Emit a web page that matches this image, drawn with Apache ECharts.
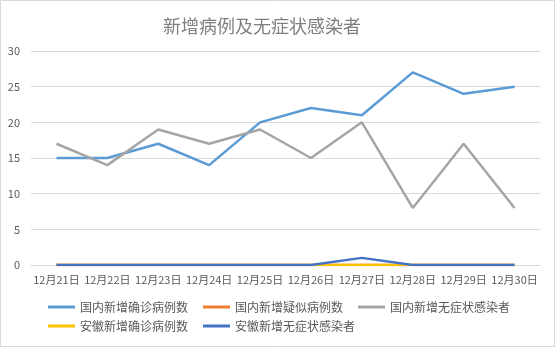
<!DOCTYPE html>
<html><head><meta charset="utf-8">
<script src="https://cdn.jsdelivr.net/npm/echarts@6/dist/echarts.min.js"></script>
<style>html,body{margin:0;padding:0;background:#fff}#c{width:555px;height:347px}</style>
</head><body><div id="c"></div>
<script>
const titleText = '新增病例及无症状感染者';
const categories = ['12月21日','12月22日','12月23日','12月24日','12月25日','12月26日','12月27日','12月28日','12月29日','12月30日'];
const seriesNames = ['国内新增确诊病例数','国内新增疑似病例数','国内新增无症状感染者','安徽新增确诊病例数','安徽新增无症状感染者'];
const domesticConfirmed = [15,15,17,14,20,22,21,27,24,25];
const domesticSuspected = [0,0,0,0,0,0,0,0,0,0];
const domesticAsymptomatic = [17,14,19,17,19,15,20,8,17,8];
const anhuiConfirmed = [0,0,0,0,0,0,0,0,0,0];
const anhuiAsymptomatic = [0,0,0,0,0,0,1,0,0,0];
const colors = ['#5B9BD5','#ED7D31','#A5A5A5','#FFC000','#4472C4'];
const values = [domesticConfirmed, domesticSuspected, domesticAsymptomatic, anhuiConfirmed, anhuiAsymptomatic];

const chart = echarts.init(document.getElementById('c'));
const font = '"Noto Sans CJK SC", "Microsoft YaHei", sans-serif';
const legendBase = {
  left: 48, padding: 0, itemWidth: 27, itemHeight: 3, itemGap: 15,
  icon: 'rect', textStyle: {fontSize: 12, color: '#595959'}
};
chart.setOption({
  animation: false,
  color: colors,
  textStyle: {fontFamily: font},
  graphic: [{type:'rect', shape:{x:0.5,y:0.5,width:554,height:346}, style:{fill:'none', stroke:'#d9d9d9', lineWidth:1}, silent:true}],
  title: {text: titleText, left: 158, top: 12, textStyle: {fontSize: 18, fontWeight: 'normal', color: '#7f7f7f', fontFamily: font}},
  grid: {left: 31, right: 15, top: 51, bottom: 82},
  legend: [
    Object.assign({}, legendBase, {top: 301, data: seriesNames.slice(0, 3)}),
    Object.assign({}, legendBase, {top: 320, data: seriesNames.slice(3)})
  ],
  xAxis: {
    type: 'category', data: categories, boundaryGap: true,
    axisLine: {lineStyle: {color: '#d9d9d9'}},
    axisTick: {show: false},
    axisLabel: {interval: 0, fontSize: 11, color: '#595959', margin: 9}
  },
  yAxis: {
    type: 'value', min: 0, max: 30, interval: 5,
    axisLine: {show: false}, axisTick: {show: false},
    axisLabel: {fontSize: 11, color: '#595959', margin: 11},
    splitLine: {lineStyle: {color: '#d9d9d9'}}
  },
  series: seriesNames.map((n, i) => ({
    name: n, type: 'line', data: values[i], symbol: 'none',
    lineStyle: {width: 2.5, color: colors[i]}, z: 2 + i
  }))
});
</script></body></html>
